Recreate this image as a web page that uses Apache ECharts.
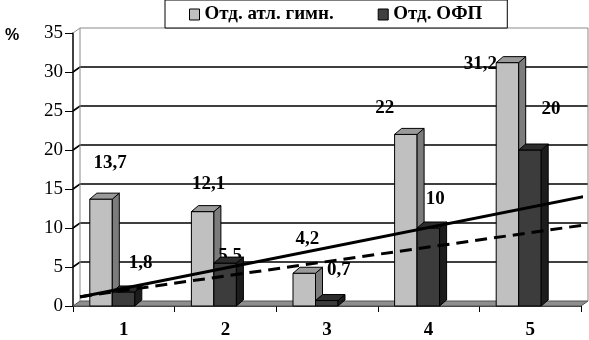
<!DOCTYPE html>
<html>
<head>
<meta charset="utf-8">
<script src="https://cdn.jsdelivr.net/npm/echarts@6/dist/echarts.min.js"></script>
<style>
html,body{margin:0;padding:0;background:#fff;}
#chart{width:589px;height:340px;}
</style>
</head>
<body>
<div id="chart"></div>
<script>
// данные
var categories = ['1', '2', '3', '4', '5'];
var gymValues = [13.7, 12.1, 4.2, 22, 31.2];
var ofpValues = [1.8, 5.5, 0.7, 10, 20];
var yTicks = [0, 5, 10, 15, 20, 25, 30, 35];
var trendGym = [[0.07, 1.15], [5.04, 14.05]];
var trendOfp = [[0.07, 1.2], [5.04, 10.4]];

// сдвиги подписей (только оформление)
var gymLabelShift = [[9, -36], [6, -28], [3, -34], [-21, -26], [-27, 1]];
var ofpLabelShift = [[17, -29], [5, -7], [12, -30], [7, -29], [21, -41]];

var DX = 7, DY = 6;
var labelFont = 'bold 19px "Liberation Serif"';

function barRender(leftOff, rightOff, col, shifts, labelBehind) {
	return function (params, api) {
		var i = api.value(0), v = api.value(1);
		var base = api.coord([i, 0]);
		var top = api.coord([i, v]);
		var xl = base[0] + leftOff, xr = base[0] + rightOff;
		var yb = base[1], yt = top[1];
		var shapes = [
			{type: 'rect', shape: {x: xl, y: yt, width: xr - xl, height: yb - yt},
				style: {fill: col[0], stroke: '#000', lineWidth: 1}},
			{type: 'polygon', shape: {points: [[xr, yt], [xr + DX, yt - DY], [xr + DX, yb - DY], [xr, yb]]},
				style: {fill: col[1], stroke: '#000', lineWidth: 1}},
			{type: 'polygon', shape: {points: [[xl, yt], [xl + DX, yt - DY], [xr + DX, yt - DY], [xr, yt]]},
				style: {fill: col[2], stroke: '#000', lineWidth: 1}}
		];
		var sh = shifts[params.dataIndex];
		var label = {type: 'text', x: (xl + xr) / 2 + sh[0], y: yt + sh[1],
			style: {text: String(v).replace('.', ','), font: labelFont, fill: '#000',
				align: 'center', verticalAlign: 'middle'}};
		var children = labelBehind ? [label].concat(shapes) : shapes.concat([label]);
		return {type: 'group', children: children};
	};
}

function wallRender(params, api) {
	var v = api.value(1);
	var cs = params.coordSys;
	var x0 = cs.x, x1 = cs.x + cs.width;
	var y = api.coord([0, v])[1];
	var children = [];
	if (v === 0) {
		children.push({type: 'polygon',
			shape: {points: [[x0, y], [x1, y], [x1 + DX, y - 5], [x0 + DX, y - 5]]},
			style: {fill: '#8e8e8e', stroke: '#555', lineWidth: 1}});
	} else if (v === 35) {
		var y0 = api.coord([0, 0])[1];
		children.push({type: 'polyline',
			shape: {points: [[x0, y], [x0 + DX, y - 5], [x1 + DX, y - 5], [x1 + DX, y0 - 5]]},
			style: {stroke: '#8a8a8a', lineWidth: 1, fill: null}});
		children.push({type: 'line',
			shape: {x1: x0 + DX, y1: y - 5, x2: x0 + DX, y2: y0 - 5},
			style: {stroke: '#8a8a8a', lineWidth: 1}});
	} else {
		children.push({type: 'polyline',
			shape: {points: [[x0, y], [x0 + DX, y - 5], [x1 + DX, y - 5]]},
			style: {stroke: '#000', lineWidth: 1.6, fill: null}});
	}
	return {type: 'group', children: children};
}

var myChart = echarts.init(document.getElementById('chart'), null, {renderer: 'canvas'});
var option = {
	animation: false,
	backgroundColor: '#fff',
	title: {
		text: '%', left: 0, top: 23,
		textStyle: {fontFamily: 'Liberation Sans', fontWeight: 'bold', fontSize: 16, color: '#000'}
	},
	legend: {
		left: 165, top: 0,
		padding: [5, 25, 4, 24],
		backgroundColor: '#fff',
		borderColor: '#000',
		borderWidth: 1,
		borderRadius: 0,
		itemWidth: 10, itemHeight: 11,
		itemGap: 44,
		icon: 'rect',
		itemStyle: {borderColor: '#000', borderWidth: 1},
		textStyle: {fontFamily: 'Liberation Serif', fontWeight: 'bold', fontSize: 19, color: '#000', lineHeight: 17},
		data: ['Отд. атл. гимн.', 'Отд. ОФП']
	},
	grid: {left: 73, right: 8, top: 33, bottom: 33, containLabel: false},
	xAxis: [{
		type: 'category',
		data: categories,
		boundaryGap: true,
		axisLine: {lineStyle: {color: '#000', width: 1.5}},
		axisTick: {show: true, length: 6, alignWithLabel: false, lineStyle: {color: '#000'}},
		axisLabel: {margin: 15, color: '#000', fontFamily: 'Liberation Serif', fontWeight: 'bold', fontSize: 19},
		splitLine: {show: false}
	}, {
		type: 'value', min: 0, max: 5, show: false
	}],
	yAxis: {
		type: 'value', min: 0, max: 35, interval: 5,
		axisLine: {show: true, lineStyle: {color: '#000', width: 1.5}},
		axisTick: {show: true, length: 8, lineStyle: {color: '#000'}},
		axisLabel: {margin: 10, color: '#000', fontFamily: 'Liberation Serif', fontSize: 19},
		splitLine: {show: false}
	},
	series: [
		{
			name: 'wall', type: 'custom', z: 1, silent: true,
			renderItem: wallRender,
			data: yTicks.map(function (t) { return [0, t]; })
		},
		{
			name: 'Отд. атл. гимн.', type: 'custom', z: 2,
			itemStyle: {color: '#c0c0c0'},
			renderItem: barRender(-34, -11.5, ['#c0c0c0', '#7c7c7c', '#9a9a9a'], gymLabelShift, false),
			data: gymValues.map(function (v, i) { return [i, v]; })
		},
		{
			name: 'Отд. ОФП', type: 'custom', z: 3,
			itemStyle: {color: '#404040'},
			renderItem: barRender(-11.5, 11, ['#3c3c3c', '#1c1c1c', '#2c2c2c'], ofpLabelShift, true),
			data: ofpValues.map(function (v, i) { return [i, v]; })
		},
		{
			name: 'trend1', type: 'line', xAxisIndex: 1, z: 5, clip: false,
			symbol: 'none', silent: true,
			lineStyle: {color: '#000', width: 3},
			data: trendGym
		},
		{
			name: 'trend2', type: 'line', xAxisIndex: 1, z: 5, clip: false,
			symbol: 'none', silent: true,
			lineStyle: {color: '#000', width: 3, type: [12, 7]},
			data: trendOfp
		}
	]
};
myChart.setOption(option, true);
window.addEventListener('resize', function () {
	myChart.resize();
});
</script>
</body>
</html>
